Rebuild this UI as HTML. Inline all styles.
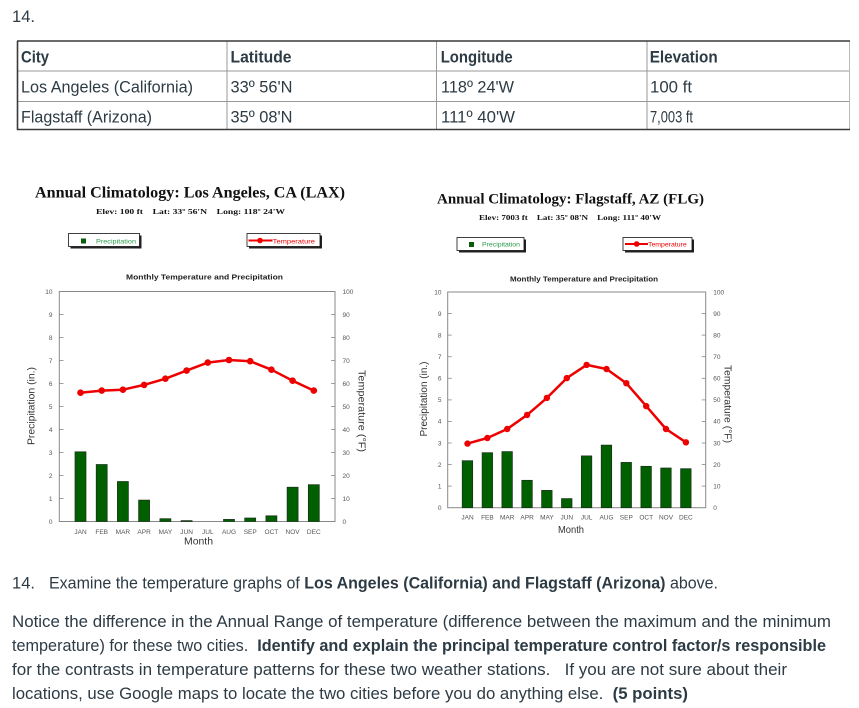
<!DOCTYPE html>
<html><head><meta charset="utf-8"><style>
html,body{margin:0;padding:0;background:#fff;}
svg{display:block;}
text{white-space:pre;}
.t{font-family:"Liberation Sans",sans-serif;fill:#2d3b45;font-size:17px;}
.b{font-weight:bold;}
.ttl{font-family:"Liberation Serif",serif;font-weight:bold;fill:#111;}
.tk{font-family:"Liberation Sans",sans-serif;fill:#555;font-size:6.5px;}
.ax{font-family:"Liberation Sans",sans-serif;fill:#333;font-size:10px;}
.mt{font-family:"Liberation Sans",sans-serif;fill:#222;font-size:7px;font-weight:bold;}
</style></head><body>
<svg width="859" height="708" viewBox="0 0 859 708" xmlns="http://www.w3.org/2000/svg">
<rect width="859" height="708" fill="#fff"/>
<!-- top number -->
<text class="t" x="12" y="22" font-size="16" textLength="23" lengthAdjust="spacingAndGlyphs">14.</text>

<!-- table -->
<g stroke="#999" stroke-width="1">
<line x1="17" y1="71" x2="850" y2="71"/>
<line x1="17" y1="101.5" x2="850" y2="101.5"/>
<line x1="227" y1="41" x2="227" y2="130"/>
<line x1="436.5" y1="41" x2="436.5" y2="130"/>
<line x1="647" y1="41" x2="647" y2="130"/>
<line x1="849.5" y1="41" x2="849.5" y2="130" stroke="#bbb"/>
</g>
<g stroke="#3a3a3a" stroke-width="1.6">
<line x1="17" y1="41" x2="850" y2="41"/>
<line x1="17" y1="129.5" x2="850" y2="129.5"/>
<line x1="17.5" y1="41" x2="17.5" y2="130"/>
</g>
<text class="t b" x="21" y="62.3" textLength="28" lengthAdjust="spacingAndGlyphs">City</text>
<text class="t b" x="230.5" y="62.3" textLength="61" lengthAdjust="spacingAndGlyphs">Latitude</text>
<text class="t b" x="440.7" y="62.3" textLength="72" lengthAdjust="spacingAndGlyphs">Longitude</text>
<text class="t b" x="649.7" y="62.3" textLength="68" lengthAdjust="spacingAndGlyphs">Elevation</text>
<text class="t" x="21" y="92.5" textLength="172" lengthAdjust="spacingAndGlyphs">Los Angeles (California)</text>
<text class="t" x="230.5" y="92.5" textLength="62" lengthAdjust="spacingAndGlyphs">33º 56'N</text>
<text class="t" x="441" y="92.5" textLength="73" lengthAdjust="spacingAndGlyphs">118º 24'W</text>
<text class="t" x="650" y="92.5" textLength="42" lengthAdjust="spacingAndGlyphs">100 ft</text>
<text class="t" x="21" y="122.3" textLength="131" lengthAdjust="spacingAndGlyphs">Flagstaff (Arizona)</text>
<text class="t" x="230.5" y="122.3" textLength="62" lengthAdjust="spacingAndGlyphs">35º 08'N</text>
<text class="t" x="441" y="122.3" textLength="74" lengthAdjust="spacingAndGlyphs">111º 40'W</text>
<text class="t" x="650" y="122.3" textLength="43" lengthAdjust="spacingAndGlyphs">7,003 ft</text>

<!-- ================= LEFT CHART ================= -->
<text class="ttl" x="35" y="197.7" font-size="16" textLength="310" lengthAdjust="spacingAndGlyphs">Annual Climatology: Los Angeles, CA (LAX)</text>
<text class="ttl" x="96" y="214" font-size="7.5" textLength="189" lengthAdjust="spacingAndGlyphs">Elev: 100 ft    Lat: 33º 56'N    Long: 118º 24'W</text>
<!-- legends -->
<rect x="70.5" y="235.5" width="71" height="13" fill="#222"/>
<rect x="68.5" y="233.5" width="71" height="13" fill="#fff" stroke="#111" stroke-width="0.8"/>
<rect x="81" y="238.5" width="5" height="5" fill="#0a5c0a"/>
<text class="tk" x="96" y="243.3" fill="#2a9a4a" style="fill:#2a9a4a" textLength="40" lengthAdjust="spacingAndGlyphs">Precipitation</text>
<rect x="249" y="235.5" width="73" height="13" fill="#222"/>
<rect x="247" y="233.5" width="73" height="13" fill="#fff" stroke="#111" stroke-width="0.8"/>
<line x1="248.5" y1="240.5" x2="272.5" y2="240.5" stroke="#e00" stroke-width="2"/>
<circle cx="260" cy="240.5" r="2.8" fill="#e00"/>
<text class="tk" x="272.7" y="243.3" style="fill:#e00" textLength="42.3" lengthAdjust="spacingAndGlyphs">Temperature</text>
<text class="mt" x="126" y="279.3" textLength="157" lengthAdjust="spacingAndGlyphs">Monthly Temperature and Precipitation</text>
<!-- plot frame -->
<rect x="59.3" y="291.5" width="275.7" height="230" fill="none" stroke="#888" stroke-width="1"/>
<g stroke="#888" stroke-width="0.8">
<line x1="59.3" y1="498.5" x2="63.5" y2="498.5"/><line x1="59.3" y1="475.5" x2="63.5" y2="475.5"/>
<line x1="59.3" y1="452.5" x2="63.5" y2="452.5"/><line x1="59.3" y1="429.5" x2="63.5" y2="429.5"/>
<line x1="59.3" y1="406.5" x2="63.5" y2="406.5"/><line x1="59.3" y1="383.5" x2="63.5" y2="383.5"/>
<line x1="59.3" y1="360.5" x2="63.5" y2="360.5"/><line x1="59.3" y1="337.5" x2="63.5" y2="337.5"/>
<line x1="59.3" y1="314.5" x2="63.5" y2="314.5"/>
<line x1="331" y1="498.5" x2="335" y2="498.5"/><line x1="331" y1="475.5" x2="335" y2="475.5"/>
<line x1="331" y1="452.5" x2="335" y2="452.5"/><line x1="331" y1="429.5" x2="335" y2="429.5"/>
<line x1="331" y1="406.5" x2="335" y2="406.5"/><line x1="331" y1="383.5" x2="335" y2="383.5"/>
<line x1="331" y1="360.5" x2="335" y2="360.5"/><line x1="331" y1="337.5" x2="335" y2="337.5"/>
<line x1="331" y1="314.5" x2="335" y2="314.5"/>
</g>
<g class="tk" text-anchor="end" font-size="7">
<text x="52.5" y="524" class="tk" text-anchor="end">0</text><text x="52.5" y="501" class="tk" text-anchor="end">1</text>
<text x="52.5" y="478" class="tk" text-anchor="end">2</text><text x="52.5" y="455" class="tk" text-anchor="end">3</text>
<text x="52.5" y="432" class="tk" text-anchor="end">4</text><text x="52.5" y="409" class="tk" text-anchor="end">5</text>
<text x="52.5" y="386" class="tk" text-anchor="end">6</text><text x="52.5" y="363" class="tk" text-anchor="end">7</text>
<text x="52.5" y="340" class="tk" text-anchor="end">8</text><text x="52.5" y="317" class="tk" text-anchor="end">9</text>
<text x="52.5" y="294" class="tk" text-anchor="end">10</text>
</g>
<g>
<text x="342.5" y="524" class="tk">0</text><text x="342.5" y="501" class="tk">10</text>
<text x="342.5" y="478" class="tk">20</text><text x="342.5" y="455" class="tk">30</text>
<text x="342.5" y="432" class="tk">40</text><text x="342.5" y="409" class="tk">50</text>
<text x="342.5" y="386" class="tk">60</text><text x="342.5" y="363" class="tk">70</text>
<text x="342.5" y="340" class="tk">80</text><text x="342.5" y="317" class="tk">90</text>
<text x="342.5" y="294" class="tk">100</text>
</g>
<!-- bars LA -->
<g fill="#006000" stroke="#1a2e1a" stroke-width="0.7">
<rect x="75" y="451.8" width="11" height="69.7"/>
<rect x="96.2" y="464.5" width="11" height="57"/>
<rect x="117.4" y="481.5" width="11" height="40"/>
<rect x="138.6" y="500.1" width="11" height="21.4"/>
<rect x="159.9" y="518.7" width="11" height="2.8"/>
<rect x="181.1" y="520.6" width="11" height="0.9"/>
<rect x="223.5" y="519.4" width="11" height="2.1"/>
<rect x="244.7" y="518" width="11" height="3.5"/>
<rect x="265.9" y="515.8" width="11" height="5.7"/>
<rect x="287.1" y="487.2" width="11" height="34.3"/>
<rect x="308.3" y="484.7" width="11" height="36.8"/>
</g>
<polyline fill="none" stroke="#e00" stroke-width="2.5" stroke-linejoin="round" points="80.5,392.7 101.7,390.6 122.9,389.7 144.1,384.9 165.4,378.7 186.6,370.6 207.8,362.6 229,360 250.2,361.2 271.4,369.7 292.6,380.7 313.8,390.6"/>
<g fill="#e00">
<circle cx="80.5" cy="392.7" r="3.3"/><circle cx="101.7" cy="390.6" r="3.3"/><circle cx="122.9" cy="389.7" r="3.3"/>
<circle cx="144.1" cy="384.9" r="3.3"/><circle cx="165.4" cy="378.7" r="3.3"/><circle cx="186.6" cy="370.6" r="3.3"/>
<circle cx="207.8" cy="362.6" r="3.3"/><circle cx="229" cy="360" r="3.3"/><circle cx="250.2" cy="361.2" r="3.3"/>
<circle cx="271.4" cy="369.7" r="3.3"/><circle cx="292.6" cy="380.7" r="3.3"/><circle cx="313.8" cy="390.6" r="3.3"/>
</g>
<g text-anchor="middle">
<text class="tk" x="80.5" y="534" text-anchor="middle">JAN</text><text class="tk" x="101.7" y="534" text-anchor="middle">FEB</text>
<text class="tk" x="122.9" y="534" text-anchor="middle">MAR</text><text class="tk" x="144.1" y="534" text-anchor="middle">APR</text>
<text class="tk" x="165.4" y="534" text-anchor="middle">MAY</text><text class="tk" x="186.6" y="534" text-anchor="middle">JUN</text>
<text class="tk" x="207.8" y="534" text-anchor="middle">JUL</text><text class="tk" x="229" y="534" text-anchor="middle">AUG</text>
<text class="tk" x="250.2" y="534" text-anchor="middle">SEP</text><text class="tk" x="271.4" y="534" text-anchor="middle">OCT</text>
<text class="tk" x="292.6" y="534" text-anchor="middle">NOV</text><text class="tk" x="313.8" y="534" text-anchor="middle">DEC</text>
</g>
<text class="ax" x="198.5" y="544.3" text-anchor="middle" textLength="29" lengthAdjust="spacingAndGlyphs">Month</text>
<text class="ax" x="34.5" y="406" text-anchor="middle" transform="rotate(-90 34.5 406)" textLength="78" lengthAdjust="spacingAndGlyphs">Precipitation (in.)</text>
<text class="ax" x="358.5" y="411" text-anchor="middle" transform="rotate(90 358.5 411)" textLength="82" lengthAdjust="spacingAndGlyphs">Temperature (°F)</text>

<!-- ================= RIGHT CHART ================= -->
<text class="ttl" x="437" y="203.3" font-size="15" textLength="267" lengthAdjust="spacingAndGlyphs">Annual Climatology: Flagstaff, AZ (FLG)</text>
<text class="ttl" x="479" y="220" font-size="7.2" textLength="182" lengthAdjust="spacingAndGlyphs">Elev: 7003 ft    Lat: 35º 08'N    Long: 111º 40'W</text>
<rect x="459" y="239.5" width="67" height="13" fill="#222"/>
<rect x="457" y="237.5" width="67" height="13" fill="#fff" stroke="#111" stroke-width="0.8"/>
<rect x="469" y="242" width="5" height="5" fill="#0a5c0a"/>
<text class="tk" x="482" y="246.7" style="fill:#2a9a4a" textLength="38" lengthAdjust="spacingAndGlyphs">Precipitation</text>
<rect x="625" y="239.5" width="69" height="13" fill="#222"/>
<rect x="623" y="237.5" width="69" height="13" fill="#fff" stroke="#111" stroke-width="0.8"/>
<line x1="625" y1="244" x2="648" y2="244" stroke="#e00" stroke-width="2"/>
<circle cx="636.7" cy="244" r="2.8" fill="#e00"/>
<text class="tk" x="648" y="246.7" style="fill:#e00" textLength="38.7" lengthAdjust="spacingAndGlyphs">Temperature</text>
<text class="mt" x="510" y="281.3" font-size="6.6" textLength="148" lengthAdjust="spacingAndGlyphs">Monthly Temperature and Precipitation</text>
<rect x="447.7" y="292" width="258" height="215.7" fill="none" stroke="#888" stroke-width="1"/>
<g stroke="#888" stroke-width="0.8">
<line x1="447.7" y1="486.1" x2="451.7" y2="486.1"/><line x1="447.7" y1="464.6" x2="451.7" y2="464.6"/>
<line x1="447.7" y1="443" x2="451.7" y2="443"/><line x1="447.7" y1="421.4" x2="451.7" y2="421.4"/>
<line x1="447.7" y1="399.9" x2="451.7" y2="399.9"/><line x1="447.7" y1="378.3" x2="451.7" y2="378.3"/>
<line x1="447.7" y1="356.7" x2="451.7" y2="356.7"/><line x1="447.7" y1="335.1" x2="451.7" y2="335.1"/>
<line x1="447.7" y1="313.6" x2="451.7" y2="313.6"/>
<line x1="701.7" y1="486.1" x2="705.7" y2="486.1"/><line x1="701.7" y1="464.6" x2="705.7" y2="464.6"/>
<line x1="701.7" y1="443" x2="705.7" y2="443"/><line x1="701.7" y1="421.4" x2="705.7" y2="421.4"/>
<line x1="701.7" y1="399.9" x2="705.7" y2="399.9"/><line x1="701.7" y1="378.3" x2="705.7" y2="378.3"/>
<line x1="701.7" y1="356.7" x2="705.7" y2="356.7"/><line x1="701.7" y1="335.1" x2="705.7" y2="335.1"/>
<line x1="701.7" y1="313.6" x2="705.7" y2="313.6"/>
</g>
<text x="441.5" y="510" class="tk" text-anchor="end">0</text><text x="441.5" y="488.4" class="tk" text-anchor="end">1</text>
<text x="441.5" y="466.9" class="tk" text-anchor="end">2</text><text x="441.5" y="445.3" class="tk" text-anchor="end">3</text>
<text x="441.5" y="423.7" class="tk" text-anchor="end">4</text><text x="441.5" y="402.2" class="tk" text-anchor="end">5</text>
<text x="441.5" y="380.6" class="tk" text-anchor="end">6</text><text x="441.5" y="359" class="tk" text-anchor="end">7</text>
<text x="441.5" y="337.4" class="tk" text-anchor="end">8</text><text x="441.5" y="315.9" class="tk" text-anchor="end">9</text>
<text x="441.5" y="294.3" class="tk" text-anchor="end">10</text>
<text x="713.3" y="510" class="tk">0</text><text x="713.3" y="488.4" class="tk">10</text>
<text x="713.3" y="466.9" class="tk">20</text><text x="713.3" y="445.3" class="tk">30</text>
<text x="713.3" y="423.7" class="tk">40</text><text x="713.3" y="402.2" class="tk">50</text>
<text x="713.3" y="380.6" class="tk">60</text><text x="713.3" y="359" class="tk">70</text>
<text x="713.3" y="337.4" class="tk">80</text><text x="713.3" y="315.9" class="tk">90</text>
<text x="713.3" y="294.3" class="tk">100</text>
<g fill="#006000" stroke="#1a2e1a" stroke-width="0.7">
<rect x="462.2" y="460.7" width="10.5" height="47"/>
<rect x="482.1" y="452.7" width="10.5" height="55"/>
<rect x="501.9" y="451.6" width="10.5" height="56.1"/>
<rect x="521.8" y="480.3" width="10.5" height="27.4"/>
<rect x="541.6" y="490.4" width="10.5" height="17.3"/>
<rect x="561.5" y="498.6" width="10.5" height="9.1"/>
<rect x="581.3" y="455.9" width="10.5" height="51.8"/>
<rect x="601.2" y="445.1" width="10.5" height="62.6"/>
<rect x="621" y="462.4" width="10.5" height="45.3"/>
<rect x="640.9" y="466.3" width="10.5" height="41.4"/>
<rect x="660.7" y="468" width="10.5" height="39.7"/>
<rect x="680.6" y="468.7" width="10.5" height="39"/>
</g>
<polyline fill="none" stroke="#e00" stroke-width="2.5" stroke-linejoin="round" points="467.5,443.6 487.4,438 507.2,429 527.1,414.95 546.9,397.9 566.8,378.1 586.6,364.9 606.5,369 626.3,383.2 646.2,406.1 666,429 685.9,442.3"/>
<g fill="#e00">
<circle cx="467.5" cy="443.6" r="3.2"/><circle cx="487.4" cy="438" r="3.2"/><circle cx="507.2" cy="429" r="3.2"/>
<circle cx="527.1" cy="414.95" r="3.2"/><circle cx="546.9" cy="397.9" r="3.2"/><circle cx="566.8" cy="378.1" r="3.2"/>
<circle cx="586.6" cy="364.9" r="3.2"/><circle cx="606.5" cy="369" r="3.2"/><circle cx="626.3" cy="383.2" r="3.2"/>
<circle cx="646.2" cy="406.1" r="3.2"/><circle cx="666" cy="429" r="3.2"/><circle cx="685.9" cy="442.3" r="3.2"/>
</g>
<text class="tk" x="467.5" y="519.6" text-anchor="middle">JAN</text><text class="tk" x="487.4" y="519.6" text-anchor="middle">FEB</text>
<text class="tk" x="507.2" y="519.6" text-anchor="middle">MAR</text><text class="tk" x="527.1" y="519.6" text-anchor="middle">APR</text>
<text class="tk" x="546.9" y="519.6" text-anchor="middle">MAY</text><text class="tk" x="566.8" y="519.6" text-anchor="middle">JUN</text>
<text class="tk" x="586.6" y="519.6" text-anchor="middle">JUL</text><text class="tk" x="606.5" y="519.6" text-anchor="middle">AUG</text>
<text class="tk" x="626.3" y="519.6" text-anchor="middle">SEP</text><text class="tk" x="646.2" y="519.6" text-anchor="middle">OCT</text>
<text class="tk" x="666" y="519.6" text-anchor="middle">NOV</text><text class="tk" x="685.9" y="519.6" text-anchor="middle">DEC</text>
<text class="ax" x="571" y="533" text-anchor="middle" textLength="26" lengthAdjust="spacingAndGlyphs">Month</text>
<text class="ax" x="426.8" y="399" text-anchor="middle" transform="rotate(-90 426.8 399)" textLength="75" lengthAdjust="spacingAndGlyphs">Precipitation (in.)</text>
<text class="ax" x="724.5" y="404" text-anchor="middle" transform="rotate(90 724.5 404)" textLength="78" lengthAdjust="spacingAndGlyphs">Temperature (°F)</text>

<!-- ================= BOTTOM TEXT ================= -->
<text class="t" x="12" y="588.5" textLength="23" lengthAdjust="spacingAndGlyphs">14.</text>
<text class="t" x="49" y="588.5" textLength="669" lengthAdjust="spacingAndGlyphs">Examine the temperature graphs of <tspan class="b" font-weight="bold">Los Angeles (California) and Flagstaff (Arizona)</tspan> above.</text>
<text class="t" x="12" y="627" textLength="819" lengthAdjust="spacingAndGlyphs">Notice the difference in the Annual Range of temperature (difference between the maximum and the minimum</text>
<text class="t" x="12" y="651" textLength="814" lengthAdjust="spacingAndGlyphs">temperature) for these two cities.  <tspan font-weight="bold">Identify and explain the principal temperature control factor/s responsible</tspan></text>
<text class="t" x="12" y="675" textLength="775" lengthAdjust="spacingAndGlyphs">for the contrasts in temperature patterns for these two weather stations.   If you are not sure about their</text>
<text class="t" x="12" y="699" textLength="676" lengthAdjust="spacingAndGlyphs">locations, use Google maps to locate the two cities before you do anything else.  <tspan font-weight="bold">(5 points)</tspan></text>
</svg>
</body></html>
